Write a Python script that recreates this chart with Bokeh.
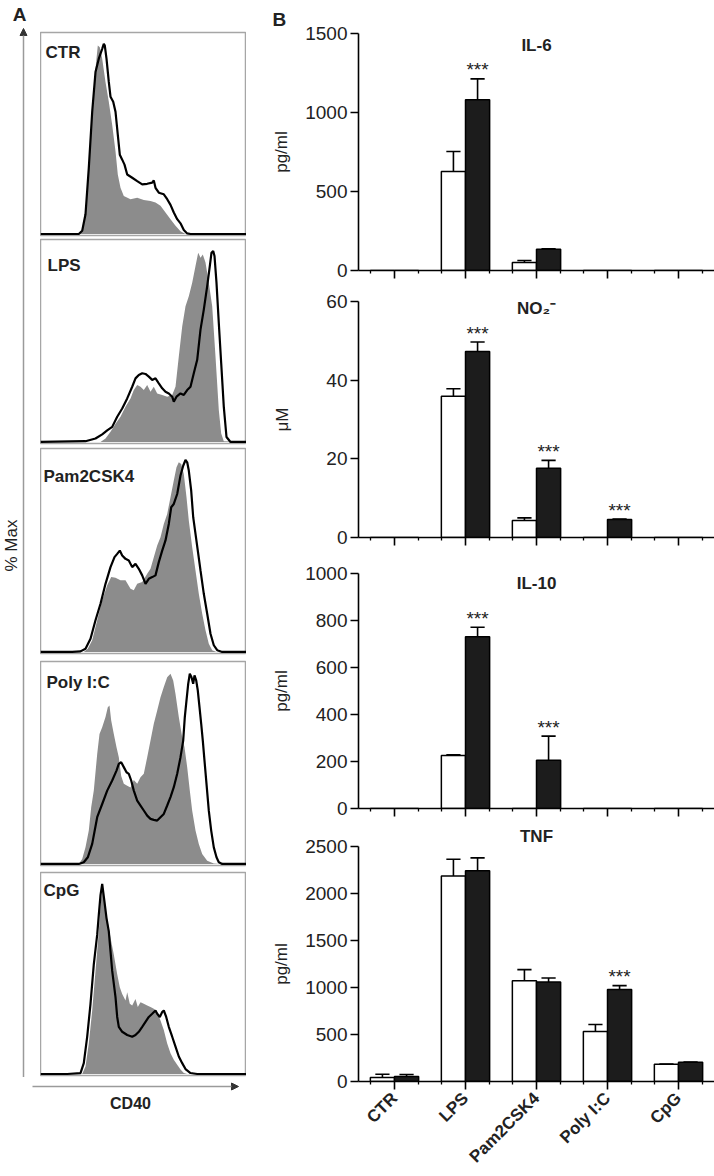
import math
from bokeh.plotting import figure
from bokeh.layouts import row, column
from bokeh.models import Range1d, FixedTicker, Label, Arrow, NormalHead
from bokeh.embed import file_html
from bokeh.resources import INLINE
from bokeh.core.properties import value

FONT = "Liberation Sans"
TXT = "#222222"

# ---------------- Panel A: CD40 histograms (x = CD40 channel, y = % Max) -------------
ctr_fill_x = [0, 38.3, 41.7, 45, 48.3, 51.7, 55, 57.3, 59.3, 61.7, 65, 68.3, 71.7, 75, 77.3, 80, 83.3, 90, 96.7, 103.3, 110, 115, 120, 125, 130, 135, 140, 145, 206]
ctr_fill_y = [0, 0, 1.7, 10.4, 34.8, 64.3, 87, 99.1, 98.3, 92.2, 80, 69.6, 57.4, 43.5, 31.3, 24.3, 20, 18.3, 19.1, 17.9, 17.4, 16.5, 14.8, 11.3, 7.8, 4.3, 1.4, 0, 0]
ctr_line_x = [0, 38.3, 41.7, 45, 48.3, 51.7, 55, 58.3, 61.7, 63.3, 64.3, 66, 68.3, 70, 72.7, 75, 77.3, 79.3, 81.7, 84, 86.7, 91.7, 96.7, 101.7, 106.7, 111.7, 113.3, 115, 118.3, 123.3, 126.7, 130, 133.3, 136.7, 140, 143.3, 146.7, 150, 206]
ctr_line_y = [0, 0, 1.7, 10.4, 34.8, 64.3, 85.2, 92.2, 97.4, 100, 99.1, 92.2, 80, 72.2, 69.6, 64.3, 52.2, 41.7, 39.1, 36.5, 31.3, 29.6, 27.8, 26.1, 26.4, 27, 28.2, 24.3, 21.7, 20.9, 18.3, 15.3, 11.3, 7.8, 5.6, 2.1, 0.3, 0, 0]

lps_fill_x = [0, 60, 65, 70, 75, 80, 85, 90, 93.3, 96.7, 100, 103.3, 106.7, 110, 113.3, 116.7, 121.7, 126.7, 131.7, 135, 138.3, 141.7, 145, 148.3, 151.7, 155, 157.7, 160, 162.3, 165, 168.3, 171.7, 175, 178.3, 180.7, 183.3, 206]
lps_fill_y = [0, 0, 1.8, 5.3, 9.6, 13.2, 18.4, 22.8, 27.2, 29.8, 28.9, 27.2, 29.8, 26.3, 28.9, 25.4, 24.6, 23.7, 24.6, 28.9, 44.7, 60.5, 71.1, 76.3, 83.3, 92.1, 99.1, 96.5, 98.2, 93.9, 83.3, 71.1, 44.7, 16.7, 4.4, 0.4, 0]
lps_line_x = [0, 45, 55, 61.7, 66.7, 71.7, 76.7, 81.7, 86.7, 91.7, 95, 98.3, 101.7, 105, 108.3, 111.7, 115, 118.3, 121.7, 125, 128.3, 131.7, 133.3, 136, 140, 143.3, 146.7, 150, 153.3, 156.7, 160, 163.3, 166.7, 169.3, 171, 172.7, 174, 176, 178.3, 180.7, 183.3, 186, 190, 206]
lps_line_y = [0, 0.4, 1.8, 4, 6.1, 7.9, 13.2, 17.5, 22.8, 28.9, 33.3, 35.1, 36, 35.6, 34.2, 32.5, 33.3, 30.7, 28.1, 26.3, 25.4, 23.7, 21.1, 23.7, 25.4, 24.6, 27.2, 28.9, 36, 43, 58.8, 69.3, 81.6, 92.1, 99.1, 100, 97.4, 83.3, 62.3, 41.2, 18.4, 2.6, 0, 0]

pam_fill_x = [0, 43.3, 47.3, 51.7, 56.7, 61.7, 66.7, 70.7, 75, 80, 85, 90, 93.3, 96.7, 101.7, 106.7, 110, 113.3, 116.7, 120, 123.3, 126.7, 130, 133.3, 136, 138.3, 140.7, 143.3, 146, 148.3, 151.7, 155, 158.3, 161.7, 165, 168.3, 171.7, 176, 206]
pam_fill_y = [0, 0, 1.7, 6.1, 16.5, 26.9, 34.7, 39, 38.6, 37.3, 37.3, 32.9, 32.1, 35.5, 36.4, 40.7, 43.3, 49.4, 55.5, 59.8, 66.7, 71.9, 80.6, 89.3, 96.2, 98.8, 97.9, 92.7, 80.6, 68.5, 54.6, 42.5, 30.3, 19.9, 11.3, 4.3, 0.9, 0, 0]
pam_line_x = [0, 31.7, 40, 45, 50, 55, 60, 65, 70, 74, 76.7, 79.3, 81.7, 85, 88.3, 91.7, 95, 98.3, 101.7, 105, 108.3, 111.7, 115, 118.3, 121.7, 125, 128.3, 130.7, 133.3, 136.7, 140, 142.7, 145, 146.7, 148.3, 150.7, 152.7, 155, 157.3, 160, 163.3, 166.7, 170, 173.3, 176.7, 181.7, 206]
pam_line_y = [0, 0, 0.3, 1.7, 6.9, 16.5, 25.1, 35.5, 44.2, 49.4, 51.1, 52.8, 50.3, 48.5, 47.7, 44.2, 45.9, 43.3, 39.9, 35.5, 38.1, 39, 39.9, 46.8, 52.8, 58.1, 66.7, 75.4, 77.1, 82.3, 91.9, 97, 100, 98.8, 94.5, 84, 70.2, 61.5, 52.8, 42.5, 30.3, 19.9, 9.5, 3.5, 0.9, 0, 0]

poly_fill_x = [0, 38.3, 41.7, 45, 48.3, 50.7, 53.3, 56.7, 59, 61.7, 65, 67.3, 69, 70.7, 73.3, 76, 78.3, 80.7, 83.3, 86.7, 90, 93.3, 96.7, 100, 103.3, 106.7, 110, 113.3, 116.7, 120, 123.3, 126.7, 130, 132.7, 135, 138.3, 141.7, 144, 146.7, 149.3, 151.7, 155, 158.3, 161.7, 166.7, 173.3, 180, 206]
poly_fill_y = [0, 0, 2.6, 8.7, 17.5, 29.7, 38.4, 57.6, 68.1, 71.6, 76.9, 82.1, 83, 75.1, 68.1, 61.1, 55.9, 46, 42, 41, 40, 44, 42, 45.4, 47.2, 55.9, 64.6, 73.4, 80.3, 87.3, 92.6, 97.8, 99.6, 96.1, 89, 76.9, 66.4, 61.1, 50.7, 38.4, 27.9, 17.5, 10.5, 5.2, 1.7, 0.3, 0, 0]
poly_line_x = [0, 38.3, 43.3, 47.3, 51.7, 56.7, 61.7, 66.7, 71.7, 76, 78.3, 80.7, 83.3, 86, 88.3, 90.7, 93.3, 96.7, 100, 103.3, 106.7, 110, 113.3, 116.7, 120, 123.3, 126.7, 130, 133.3, 136.7, 140, 142.7, 144.3, 146, 147.7, 149.3, 151, 152.7, 154, 155.7, 157.3, 159, 160.7, 162.3, 164, 166, 168.3, 170.7, 173.3, 176, 178.3, 181.7, 206]
poly_line_y = [0, 0, 0.9, 3.5, 10.5, 24.5, 31.4, 38.4, 43.7, 48.9, 52.4, 53.3, 50.7, 48, 47.2, 43.7, 38.4, 33.2, 30.6, 28, 25.3, 23.6, 23.1, 22.7, 24.5, 26.2, 30.6, 35, 40.2, 47.2, 55.9, 64.6, 76.9, 85.6, 94.3, 99.6, 97.8, 94.3, 98.7, 96.1, 90.8, 82.1, 73.4, 64.6, 54.1, 41.9, 27.9, 17.5, 8.7, 3.5, 0.9, 0, 0]

cpg_fill_x = [0, 41.7, 45, 48.3, 51.7, 55, 58.3, 60, 61.7, 63.3, 66, 68.3, 70.7, 73.3, 76.7, 79.3, 81.7, 85, 86.7, 89.3, 91.7, 95, 97.3, 100, 103.3, 106.7, 110, 113.3, 116.7, 120, 123.3, 126.7, 130, 133.3, 136.7, 140, 143.3, 146.7, 206]
cpg_fill_y = [0, 0, 4, 16.1, 33.4, 54.2, 75, 88.9, 97.6, 94.1, 83.7, 76.8, 69.8, 62.9, 52.5, 45.6, 42.1, 38.6, 43, 36.9, 36, 39.5, 35.2, 37.8, 36.9, 36, 35.2, 34.3, 32.6, 28.2, 23.1, 16.1, 10.9, 7.5, 4.9, 2.3, 0.5, 0, 0]
cpg_line_x = [0, 26.7, 40, 43.3, 46.7, 50, 53.3, 56.7, 58.3, 60, 61.7, 64, 66, 68.3, 70, 71.7, 75, 76.7, 78.3, 81.7, 86.7, 91.7, 95, 98.3, 101.7, 105, 108.3, 111.7, 115, 116.7, 119.3, 121.7, 123.3, 125.7, 128.3, 131.7, 135, 138.3, 141.7, 145, 150, 156.7, 206]
cpg_line_y = [0, 0, 0.5, 5.7, 19.6, 36.9, 57.7, 73.3, 83.7, 94.1, 100, 90.6, 82, 75, 64.6, 54.2, 40.4, 30, 24.8, 22.2, 20.5, 19.6, 20.5, 22.2, 24.8, 27.4, 30, 31.7, 33.4, 31.7, 30, 32.6, 33.4, 30, 24.8, 19.6, 14.4, 9.2, 5.7, 2.6, 0.5, 0, 0]

# ---------------- Panel B: cytokines (open bars / filled bars, mean and SEM) -------------
categories = ["CTR", "LPS", "Pam2CSK4", "Poly I:C", "CpG"]

il6_open = [0, 627, 51, 0, 0]
il6_open_sem = [0, 126, 12, 0, 0]
il6_filled = [0, 1080, 135, 0, 0]
il6_filled_sem = [0, 133, 3, 0, 0]
il6_sig = [1]
il6_ticks = [0, 500, 1000, 1500]

no2_open = [0, 35.9, 4.3, 0, 0]
no2_open_sem = [0, 1.9, 0.7, 0, 0]
no2_filled = [0, 47.3, 17.6, 4.6, 0]
no2_filled_sem = [0, 2.4, 2.0, 0.1, 0]
no2_sig = [1, 2, 3]
no2_ticks = [0, 20, 40, 60]

il10_open = [0, 226, 0, 0, 0]
il10_open_sem = [0, 3, 0, 0, 0]
il10_filled = [0, 731, 205, 0, 0]
il10_filled_sem = [0, 40, 103, 0, 0]
il10_sig = [1, 2]
il10_ticks = [0, 200, 400, 600, 800, 1000]

tnf_open = [42, 2185, 1073, 533, 183]
tnf_open_sem = [35, 180, 117, 74, 2]
tnf_filled = [53, 2241, 1059, 978, 205]
tnf_filled_sem = [21, 138, 42, 42, 3]
tnf_sig = [3]
tnf_ticks = [0, 500, 1000, 1500, 2000, 2500]


def hist_panel(name, fx, fy, lx, ly, h, bt, bb, lab_x, lab_dy):
    p = figure(width=206, height=h, x_range=Range1d(0, 206), y_range=Range1d(-0.8, 106),
               output_backend="svg", toolbar_location=None,
               x_axis_location=None, y_axis_location=None,
               min_border_left=0, min_border_right=0, min_border_top=bt, min_border_bottom=bb)
    p.grid.visible = False
    p.outline_line_color = "#a6a6a6"
    p.outline_line_width = 1.5
    p.varea(x=fx, y1=0, y2=fy, fill_color="#8c8c8c")
    p.line(x=lx, y=ly, line_color="black", line_width=2.2)
    fh = h - bt - bb
    p.add_layout(Label(x=lab_x, y=fh - lab_dy, x_units="screen", y_units="screen", text=name,
                       text_font=FONT, text_font_style="bold", text_font_size="17px",
                       text_color=TXT, text_align="left", text_baseline="middle"))
    return p


hists = [
    hist_panel(categories[0], ctr_fill_x, ctr_fill_y, ctr_line_x, ctr_line_y, 237, 32, 2, 5, 20),
    hist_panel(categories[1], lps_fill_x, lps_fill_y, lps_line_x, lps_line_y, 208, 2, 2, 7, 26),
    hist_panel(categories[2], pam_fill_x, pam_fill_y, pam_line_x, pam_line_y, 210, 3, 2, 3, 28),
    hist_panel(categories[3], poly_fill_x, poly_fill_y, poly_line_x, poly_line_y, 212, 6, 2, 6, 21),
    hist_panel(categories[4], cpg_fill_x, cpg_fill_y, cpg_line_x, cpg_line_y, 210, 5, 2, 3, 18),
]

# y-arrow / "% Max" strip
axf = figure(width=40, height=1077, x_range=Range1d(0, 1), y_range=Range1d(0, 1),
             output_backend="svg", toolbar_location=None,
             x_axis_location=None, y_axis_location=None,
             min_border_left=0, min_border_right=0, min_border_top=0, min_border_bottom=0)
axf.grid.visible = False
axf.outline_line_color = None
axf.add_layout(Arrow(x_start=23, y_start=0, x_end=23, y_end=1049, start_units="screen", end_units="screen",
                     line_color="#9a9a9a", line_width=1.5,
                     end=NormalHead(size=7, fill_color="#333333", line_color="#333333")))
axf.add_layout(Label(x=19, y=1063, x_units="screen", y_units="screen", text="A",
                     text_font=FONT, text_font_style="bold", text_font_size="19px", text_color=TXT,
                     text_align="center", text_baseline="middle"))
axf.add_layout(Label(x=11, y=532, x_units="screen", y_units="screen", text="% Max", angle=math.pi / 2,
                     text_font=FONT, text_font_size="17px", text_color=TXT,
                     text_align="center", text_baseline="middle"))

# x-arrow / "CD40" strip
cdf = figure(width=246, height=99, x_range=Range1d(0, 1), y_range=Range1d(0, 1),
             output_backend="svg", toolbar_location=None,
             x_axis_location=None, y_axis_location=None,
             min_border_left=0, min_border_right=0, min_border_top=0, min_border_bottom=0)
cdf.grid.visible = False
cdf.outline_line_color = None
cdf.add_layout(Arrow(x_start=32, y_start=90, x_end=238, y_end=90, start_units="screen", end_units="screen",
                     line_color="#9a9a9a", line_width=1.5,
                     end=NormalHead(size=7, fill_color="#333333", line_color="#333333")))
cdf.add_layout(Label(x=130, y=73, x_units="screen", y_units="screen", text="CD40",
                     text_font=FONT, text_font_style="bold", text_font_size="16px", text_color=TXT,
                     text_align="center", text_baseline="middle"))


def bar_panel(title, ylabel, ticks, ov, oe, fv, fe, sig, h, bt, bb, title_dy, standoff, last):
    p = figure(width=468, height=h, x_range=Range1d(-0.507, 4.507), y_range=Range1d(0, ticks[-1]),
               output_backend="svg", toolbar_location=None,
               min_border_left=112, min_border_right=0, min_border_top=bt, min_border_bottom=bb)
    p.grid.visible = False
    p.outline_line_color = None
    n = len(categories)
    xo = [i - 0.17 for i in range(n)]
    xf = [i + 0.17 for i in range(n)]
    p.vbar(x=xo, top=ov, bottom=0, width=0.34, fill_color="white", line_color="black", line_width=1.5)
    p.vbar(x=xf, top=fv, bottom=0, width=0.34, fill_color="#1c1c1c", line_color="black", line_width=1.5)
    for xs, v, e in ((xo, ov, oe), (xf, fv, fe)):
        idx = [i for i in range(n) if v[i] > 0]
        xx = [xs[i] for i in idx]
        y0 = [v[i] for i in idx]
        y1 = [v[i] + e[i] for i in idx]
        p.segment(x0=xx, y0=y0, x1=xx, y1=y1, line_color="black", line_width=1.6)
        p.segment(x0=[x - 0.1 for x in xx], y0=y1, x1=[x + 0.1 for x in xx], y1=y1,
                  line_color="black", line_width=1.6)
    p.text(x=[xf[i] for i in sig], y=[fv[i] + fe[i] for i in sig], text=["***"] * len(sig),
           text_font=value(FONT), text_font_size="19px", text_color=TXT,
           text_align="center", text_baseline="alphabetic", y_offset=-9)
    fh = h - bt - bb
    if title_dy is not None:
        p.add_layout(Label(x=2, y=fh - title_dy, y_units="screen", text=title,
                           text_font=FONT, text_font_style="bold", text_font_size="17px", text_color=TXT,
                           text_align="center", text_baseline="middle"))
    ya = p.yaxis[0]
    ya.ticker = FixedTicker(ticks=ticks)
    ya.axis_line_width = 1.6
    ya.major_tick_line_width = 1.6
    ya.major_tick_out = 8
    ya.major_tick_in = 0
    ya.minor_tick_out = 0
    ya.minor_tick_in = 0
    ya.major_label_standoff = 3
    ya.major_label_text_font = FONT
    ya.major_label_text_font_size = "19px"
    ya.major_label_text_color = TXT
    ya.axis_label = ylabel
    ya.axis_label_text_font = FONT
    ya.axis_label_text_font_style = "normal"
    ya.axis_label_text_font_size = "17px"
    ya.axis_label_text_color = TXT
    ya.axis_label_standoff = standoff
    xa = p.xaxis[0]
    minor = []
    for i in range(n):
        minor += [i - 0.34, i + 0.34]
    xa.ticker = FixedTicker(ticks=list(range(n)), minor_ticks=minor)
    xa.axis_line_width = 1.6
    xa.major_tick_line_width = 1.6
    xa.minor_tick_line_width = 1.3
    xa.major_tick_out = 8
    xa.major_tick_in = 0
    xa.minor_tick_out = 3
    xa.minor_tick_in = 0
    if last:
        xa.major_label_overrides = {i: c for i, c in enumerate(categories)}
        xa.major_label_orientation = math.pi / 4
        xa.major_label_standoff = 6
        xa.major_label_text_font = FONT
        xa.major_label_text_font_style = "bold"
        xa.major_label_text_font_size = "17px"
        xa.major_label_text_color = TXT
    else:
        xa.major_label_text_font_size = "4px"
        xa.major_label_text_color = None
        xa.major_label_standoff = 0
    return p


f1 = bar_panel("IL-6", "pg/ml", il6_ticks, il6_open, il6_open_sem, il6_filled, il6_filled_sem, il6_sig,
               290, 33, 20, 12, 11, False)
# panel letter "B" as the title of the first bar chart, pushed left over the axis area
f1.title.text = "B"
f1.title.align = "left"
f1.title.offset = -86
f1.title.standoff = 8
f1.title.text_font = FONT
f1.title.text_font_style = "bold"
f1.title.text_font_size = "19px"
f1.title.text_color = TXT

f2 = bar_panel("NO\u2082\u207b", "\u03bcM", no2_ticks, no2_open, no2_open_sem, no2_filled, no2_filled_sem, no2_sig,
               272, 11, 25, 7, 31, False)
f3 = bar_panel("IL-10", "pg/ml", il10_ticks, il10_open, il10_open_sem, il10_filled, il10_filled_sem, il10_sig,
               262, 11, 16, 10, 11, False)
f4 = bar_panel("TNF", "pg/ml", tnf_ticks, tnf_open, tnf_open_sem, tnf_filled, tnf_filled_sem, tnf_sig,
               352, 22, 94, None, 11, True)
f4.title.text = "TNF"
f4.title.align = "center"
f4.title.standoff = 1
f4.title.text_font = FONT
f4.title.text_font_style = "bold"
f4.title.text_font_size = "17px"
f4.title.text_color = TXT

left = column(row(axf, column(*hists)), cdf)
right = column(f1, f2, f3, f4)
layout = row(left, right)

open("out.html", "w").write(file_html(layout, INLINE))
